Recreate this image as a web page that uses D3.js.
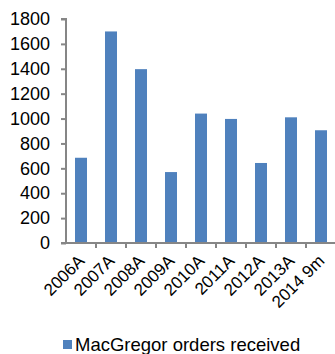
<!DOCTYPE html>
<html>
<head>
<meta charset="utf-8">
<script src="https://cdn.jsdelivr.net/npm/d3@7"></script>
<style>
  body { margin: 0; background: #fff; }
  svg text { font-family: "Liberation Sans", Arial, sans-serif; fill: #000; }
</style>
</head>
<body>
<div id="main"></div>
<script>
const years = ['2006A', '2007A', '2008A', '2009A', '2010A', '2011A', '2012A', '2013A', '2014 9m'];
const orders = [685, 1700, 1397, 570, 1040, 997, 643, 1010, 906];
const yTicks = [0, 200, 400, 600, 800, 1000, 1200, 1400, 1600, 1800];
const seriesName = 'MacGregor orders received';

const w = 335, h = 354;
const plotLeft = 66, plotRight = 336, plotTop = 19, plotBottom = 243;
const barColor = '#4F81BD', axisColor = '#868686';

const svg = d3.select('#main')
  .append('svg')
  .attr('width', w)
  .attr('height', h);

const x = d3.scaleBand()
  .domain(years)
  .range([plotLeft, plotRight])
  .paddingInner(0.6)
  .paddingOuter(0.3);

const y = d3.scaleLinear()
  .domain([0, 1800])
  .range([plotBottom, plotTop]);

svg.selectAll('rect.bar')
  .data(years)
  .enter()
  .append('rect')
  .attr('class', 'bar')
  .attr('x', d => x(d))
  .attr('y', (d, i) => y(orders[i]))
  .attr('width', x.bandwidth())
  .attr('height', (d, i) => plotBottom - y(orders[i]))
  .attr('fill', barColor);

// y axis
const yAxis = svg.append('g')
  .attr('transform', 'translate(' + plotLeft + ',0)')
  .call(d3.axisLeft(y).tickValues(yTicks).tickSize(5).tickPadding(11).tickFormat(d3.format('d')));
yAxis.select('.domain').attr('stroke', axisColor).attr('stroke-width', 2).attr('d', 'M-5,' + plotTop + 'H0V' + plotBottom);
yAxis.selectAll('.tick line').attr('stroke', axisColor).attr('stroke-width', 2);
yAxis.selectAll('.tick text').style('font-size', '18px').attr('fill', '#000');

// x axis: ticks at category boundaries
const step = x.step();
const bounds = d3.range(years.length + 1).map(i => plotLeft + i * step);
svg.append('line')
  .attr('x1', plotLeft - 5).attr('x2', w)
  .attr('y1', plotBottom).attr('y2', plotBottom)
  .attr('stroke', axisColor).attr('stroke-width', 2);
svg.selectAll('line.xtick')
  .data(bounds.slice(1, -1))
  .enter()
  .append('line')
  .attr('class', 'xtick')
  .attr('x1', d => d).attr('x2', d => d)
  .attr('y1', plotBottom).attr('y2', plotBottom + 5)
  .attr('stroke', axisColor).attr('stroke-width', 2);

svg.selectAll('text.xlab')
  .data(years)
  .enter()
  .append('text')
  .attr('class', 'xlab')
  .attr('text-anchor', 'end')
  .attr('transform', d => 'translate(' + (x(d) + x.bandwidth() / 2 + 4.5) + ',' + (plotBottom + 19) + ') rotate(-45)')
  .style('font-size', '17px')
  .text(d => d);

// legend
svg.append('rect')
  .attr('x', 63).attr('y', 340)
  .attr('width', 9).attr('height', 9)
  .attr('fill', barColor);
svg.append('text')
  .attr('x', 75).attr('y', 351)
  .style('font-size', '18.5px')
  .text(seriesName);
</script>
</body>
</html>
